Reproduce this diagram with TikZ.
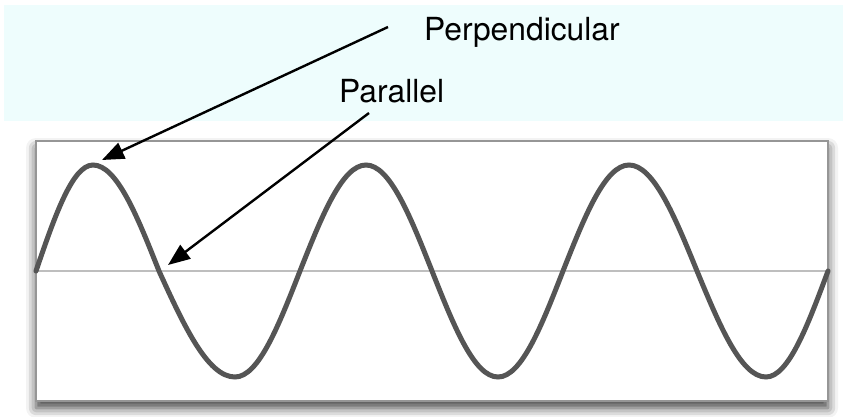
\documentclass[tikz,border=0pt]{standalone}
\usepackage{fontspec}
\setmainfont{TeX Gyre Heros}
\usetikzlibrary{shadows.blur,arrows.meta}
\definecolor{band}{RGB}{238,253,253}
\definecolor{wave}{RGB}{85,85,85}
\definecolor{axis}{RGB}{190,190,190}
\definecolor{frame}{RGB}{150,150,150}
\tikzset{
  lbl/.style={inner sep=0pt, anchor=base west, font=\fontsize{31.8}{38}\selectfont},
  arr/.style={line width=2.4pt, -{Triangle[length=22pt,width=17pt]}},
}
\begin{document}
\begin{tikzpicture}[x=1pt,y=-1pt]
\useasboundingbox (0,0) rectangle (843,417);
\fill[band] (4,5) rectangle (843,121);
\node[draw=frame, line width=2.2pt, fill=white, minimum width=792pt, minimum height=260pt, inner sep=0pt,
  blur shadow={shadow xshift=0pt, shadow yshift=-7pt, shadow blur radius=10pt, shadow opacity=75}]
  (box) at (432,271) {};
\draw[axis, line width=2.8pt] (box.west) -- (box.east);
\draw[wave, line width=5pt, line cap=round]
  (36,271) sin (93,165) cos (159,271) sin (235,377) cos (300,271)
  sin (366,165) cos (432,271) sin (498,377) cos (563,271)
  sin (629,165) cos (697,271) sin (766,377) cos (828,271);
\node[lbl] (perp) at (424,41) {Perpendicular};
\node[lbl] (para) at (339,103) {Parallel};
\coordinate (perpstart) at (388,27);
\coordinate (perptip) at (102,160);
\coordinate (parastart) at (369,113);
\coordinate (paratip) at (168,265);
\draw[arr] (perpstart) -- (perptip);
\draw[arr] (parastart) -- (paratip);
\end{tikzpicture}
\end{document}
